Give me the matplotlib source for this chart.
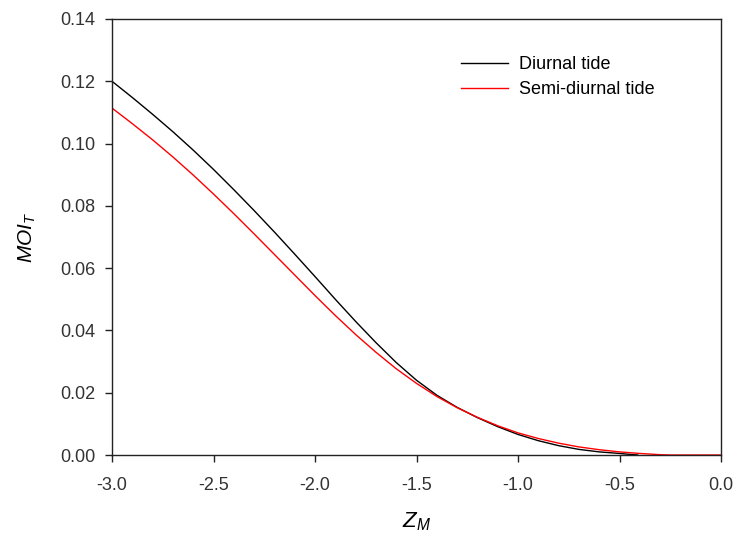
import matplotlib
matplotlib.use('Agg')
import matplotlib.pyplot as plt
from matplotlib.ticker import FormatStrFormatter

plt.rcParams['font.family'] = ['Liberation Sans', 'DejaVu Sans']
plt.rcParams['axes.unicode_minus'] = False
plt.rcParams['mathtext.fontset'] = 'custom'
plt.rcParams['mathtext.it'] = 'Liberation Sans:italic'
plt.rcParams['mathtext.rm'] = 'Liberation Sans'

# values
z_diurnal = [-3.0, -2.9, -2.8, -2.7, -2.6, -2.5, -2.4, -2.3, -2.2, -2.1, -2.0,
             -1.9, -1.8, -1.7, -1.6, -1.5, -1.4, -1.3, -1.2, -1.1, -1.0,
             -0.9, -0.8, -0.7, -0.6, -0.5, -0.45, -0.41]
moi_diurnal = [0.1200, 0.1148, 0.1094, 0.1038, 0.0979, 0.0917, 0.0852, 0.0785,
               0.0716, 0.0645, 0.0573, 0.0500, 0.0429, 0.0361, 0.0297, 0.0240,
               0.0192, 0.0153, 0.0120, 0.0091, 0.0066, 0.0046, 0.0030, 0.0018,
               0.0010, 0.0005, 0.0002, 0.0]

z_semi = [-3.0, -2.9, -2.8, -2.7, -2.6, -2.5, -2.4, -2.3, -2.2, -2.1, -2.0,
          -1.9, -1.8, -1.7, -1.6, -1.5, -1.4, -1.3, -1.2, -1.1, -1.0,
          -0.9, -0.8, -0.7, -0.6, -0.5, -0.4, -0.3, -0.25, 0.0]
moi_semi = [0.1114, 0.1064, 0.1012, 0.0957, 0.0899, 0.0838, 0.0775, 0.0710,
            0.0644, 0.0578, 0.0512, 0.0448, 0.0387, 0.0330, 0.0277, 0.0230,
            0.0188, 0.0152, 0.0121, 0.0094, 0.0071, 0.0053, 0.0038, 0.0026,
            0.0017, 0.0010, 0.0005, 0.0001, 0.0, 0.0]

x_ticks = [-3.0, -2.5, -2.0, -1.5, -1.0, -0.5, 0.0]
y_ticks = [0.00, 0.02, 0.04, 0.06, 0.08, 0.10, 0.12, 0.14]

fig = plt.figure(figsize=(7.38, 5.39), dpi=100)
# plot frame: x 112..721 px, y 19..455 px
ax = fig.add_axes([112 / 738, 1 - 455 / 539, 609 / 738, 436 / 539])

ax.plot(z_diurnal, moi_diurnal, color='black', lw=1.0, label='Diurnal tide')
ax.plot(z_semi, moi_semi, color='red', lw=1.0, label='Semi-diurnal tide')

ax.set_xlim(-3.0, 0.0)
ax.set_ylim(0.0, 0.14)
ax.set_xticks(x_ticks)
ax.set_yticks(y_ticks)
ax.xaxis.set_major_formatter(FormatStrFormatter('%.1f'))
ax.yaxis.set_major_formatter(FormatStrFormatter('%.2f'))
ax.tick_params(direction='out', length=5, width=1, labelsize=13,
               colors='#222222', labelcolor='#333333', top=False, right=False)
ax.tick_params(axis='x', pad=11)
ax.tick_params(axis='y', pad=7)
for s in ax.spines.values():
    s.set_linewidth(1.0)
    s.set_color('#222222')

ax.set_xlabel('$Z_M$', fontsize=16, labelpad=12)
ax.set_ylabel('$MOI_T$', fontsize=15, labelpad=16)

ax.legend(loc='upper left', bbox_to_anchor=(0.561, 0.932), frameon=False,
          borderaxespad=0, fontsize=13, handlelength=2.6, handletextpad=0.6,
          labelspacing=0.45)

fig.savefig('out.png', dpi=100)
